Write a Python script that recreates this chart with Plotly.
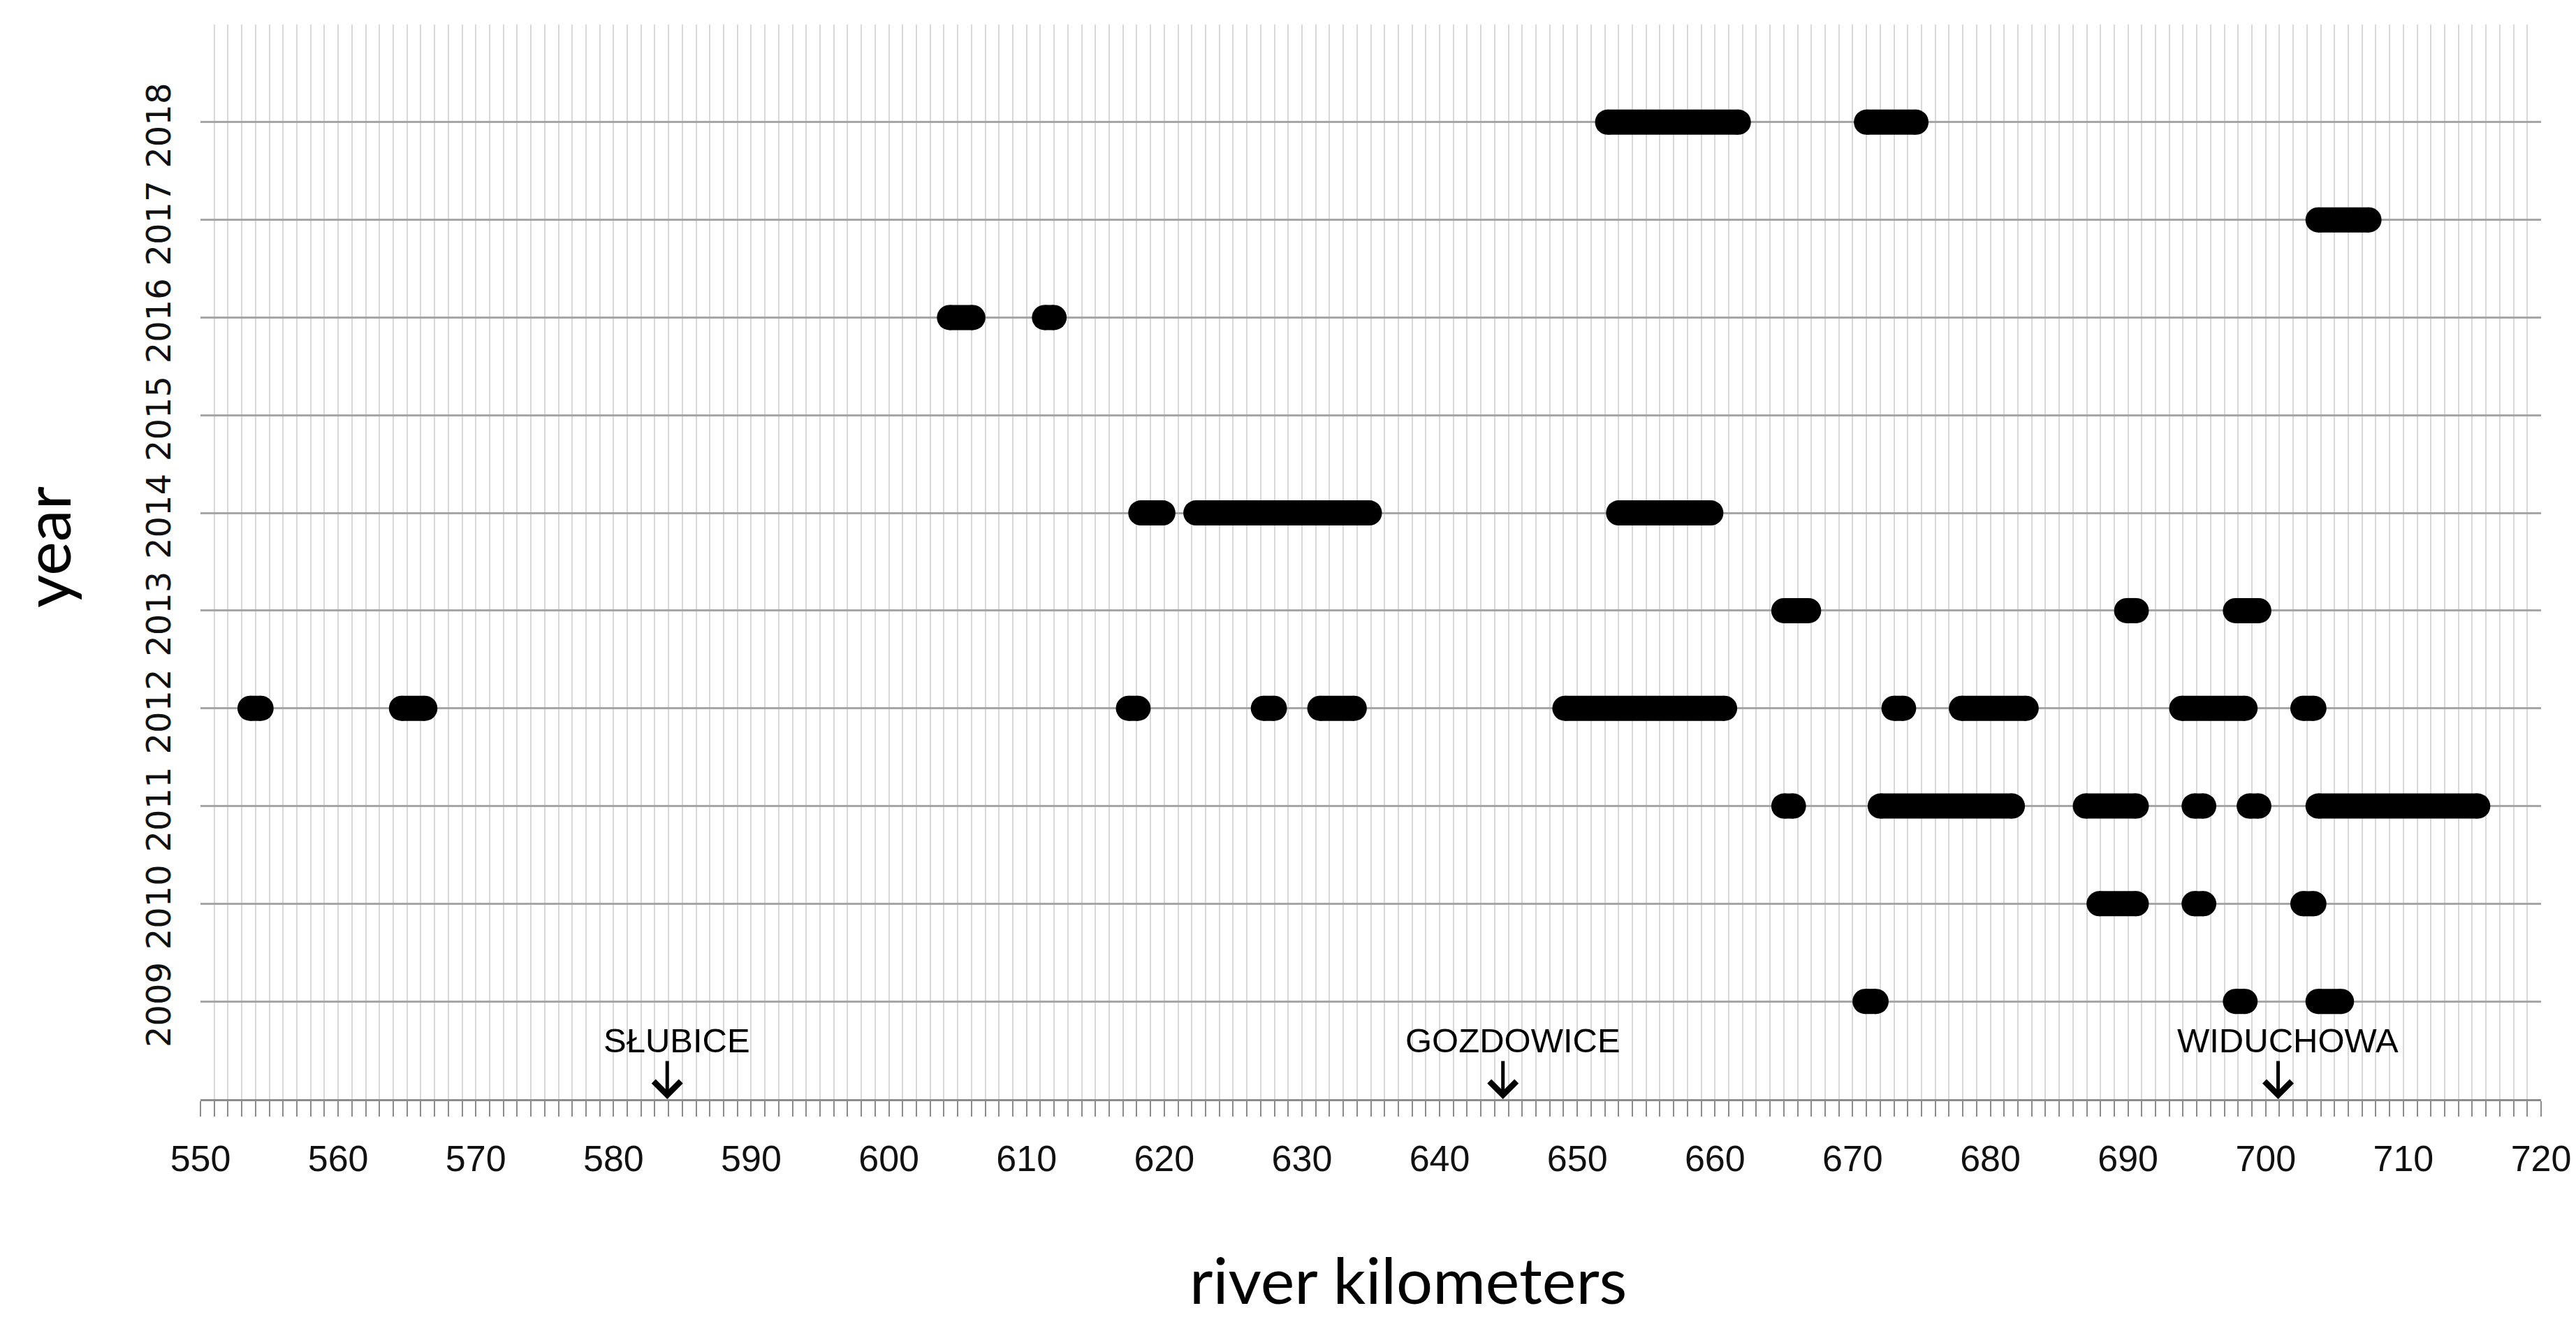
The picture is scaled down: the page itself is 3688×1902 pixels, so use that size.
import plotly.graph_objects as go

# ---- data (river km of segment ends, per year) ----
years = [2009, 2010, 2011, 2012, 2013, 2014, 2015, 2016, 2017, 2018]
year_labels = [str(y) for y in years]

seg_2009 = [(670.9, 671.7), (697.8, 698.5), (703.8, 705.5)]
seg_2010 = [(687.9, 690.6), (694.8, 695.5), (702.7, 703.5)]
seg_2011 = [(665.0, 665.7), (672.0, 681.6), (686.9, 690.6), (694.8, 695.5),
            (698.8, 699.5), (703.8, 715.4)]
seg_2012 = [(553.6, 554.4), (564.6, 566.3), (617.4, 618.1), (627.2, 628.0),
            (631.3, 633.8), (649.1, 660.7), (673.0, 673.7), (677.9, 682.6),
            (693.9, 698.5), (702.7, 703.5)]
seg_2013 = [(665.0, 666.8), (689.9, 690.6), (697.8, 699.5)]
seg_2014 = [(618.3, 619.9), (622.3, 634.9), (653.0, 659.7)]
seg_2015 = []
seg_2016 = [(604.4, 606.1), (611.3, 612.0)]
seg_2017 = [(703.8, 707.5)]
seg_2018 = [(652.2, 661.7), (671.0, 674.6)]

segments_by_year = [seg_2009, seg_2010, seg_2011, seg_2012, seg_2013,
                    seg_2014, seg_2015, seg_2016, seg_2017, seg_2018]

place_names = ["SŁUBICE", "GOZDOWICE", "WIDUCHOWA"]
place_km = [583.9, 644.6, 700.9]

x_min, x_max = 550, 720

# ---- build traces ----
xs, ys = [], []
for yr, segs in zip(years, segments_by_year):
    for s, e in segs:
        xs += [s, e, None]
        ys += [yr, yr, None]

W, H = 3688, 1902
BAR = 36

fig = go.Figure()
fig.add_trace(go.Scatter(
    x=xs, y=ys, mode="lines+markers",
    line=dict(color="black", width=BAR),
    marker=dict(color="black", size=BAR, line=dict(width=0)),
    hoverinfo="skip", showlegend=False, connectgaps=False,
))

tick_font = dict(family="Liberation Sans, Arial", size=52, color="#111111")

fig.update_xaxes(
    range=[x_min, x_max],
    tickmode="linear", tick0=550, dtick=10,
    ticks="outside", ticklen=22, tickwidth=2, tickcolor="#8c8c8c",
    showgrid=True, gridcolor="#d9d9d9", gridwidth=2,
    minor=dict(dtick=1, ticks="outside", ticklen=22, tickwidth=2, tickcolor="#8c8c8c",
               showgrid=True, gridcolor="#d9d9d9", gridwidth=2),
    showline=True, linecolor="#8c8c8c", linewidth=3,
    zeroline=False,
    tickfont=tick_font,
    ticklabelstandoff=16,
)

fig.update_yaxes(
    range=[2008, 2019],
    tickvals=years + [2019],
    ticktext=year_labels + [""],
    tickangle=-90,
    ticks="",
    showgrid=True, gridcolor="#a6a6a6", gridwidth=3,
    showline=False, zeroline=False,
    tickfont=dict(family="DejaVu Sans", size=48, color="#111111"),
    ticklabelstandoff=32,
    ticklabelshift=12,
)

annotations = []
# axis titles
annotations.append(dict(text="year", xref="paper", yref="paper", x=0, y=0.5,
                        xshift=-222, yshift=21, textangle=-90, showarrow=False,
                        xanchor="center", yanchor="middle",
                        font=dict(family="Lato", size=92, color="black")))
annotations.append(dict(text="river kilometers", xref="paper", yref="paper",
                        x=0.516, y=0, yshift=-257, showarrow=False,
                        xanchor="center", yanchor="middle",
                        font=dict(family="Lato", size=92, color="black")))
# place markers
for name, km in zip(place_names, place_km):
    annotations.append(dict(text=name, x=km, y=2008, xref="x", yref="y",
                            showarrow=False, xanchor="center", yanchor="middle",
                            xshift=14, yshift=84,
                            font=dict(family="Liberation Sans, Arial",
                                      size=49, color="black")))
    annotations.append(dict(text="", x=km, y=2008, xref="x", yref="y",
                            showarrow=True, ax=0, ay=-56, axref="pixel", ayref="pixel",
                            arrowhead=4, arrowsize=1.5, arrowwidth=5, arrowcolor="black"))

fig.update_layout(
    width=W, height=H,
    margin=dict(l=279, r=58, t=27, b=337),
    plot_bgcolor="white", paper_bgcolor="white",
    annotations=annotations,
    showlegend=False,
)

fig.write_html("out.html")
